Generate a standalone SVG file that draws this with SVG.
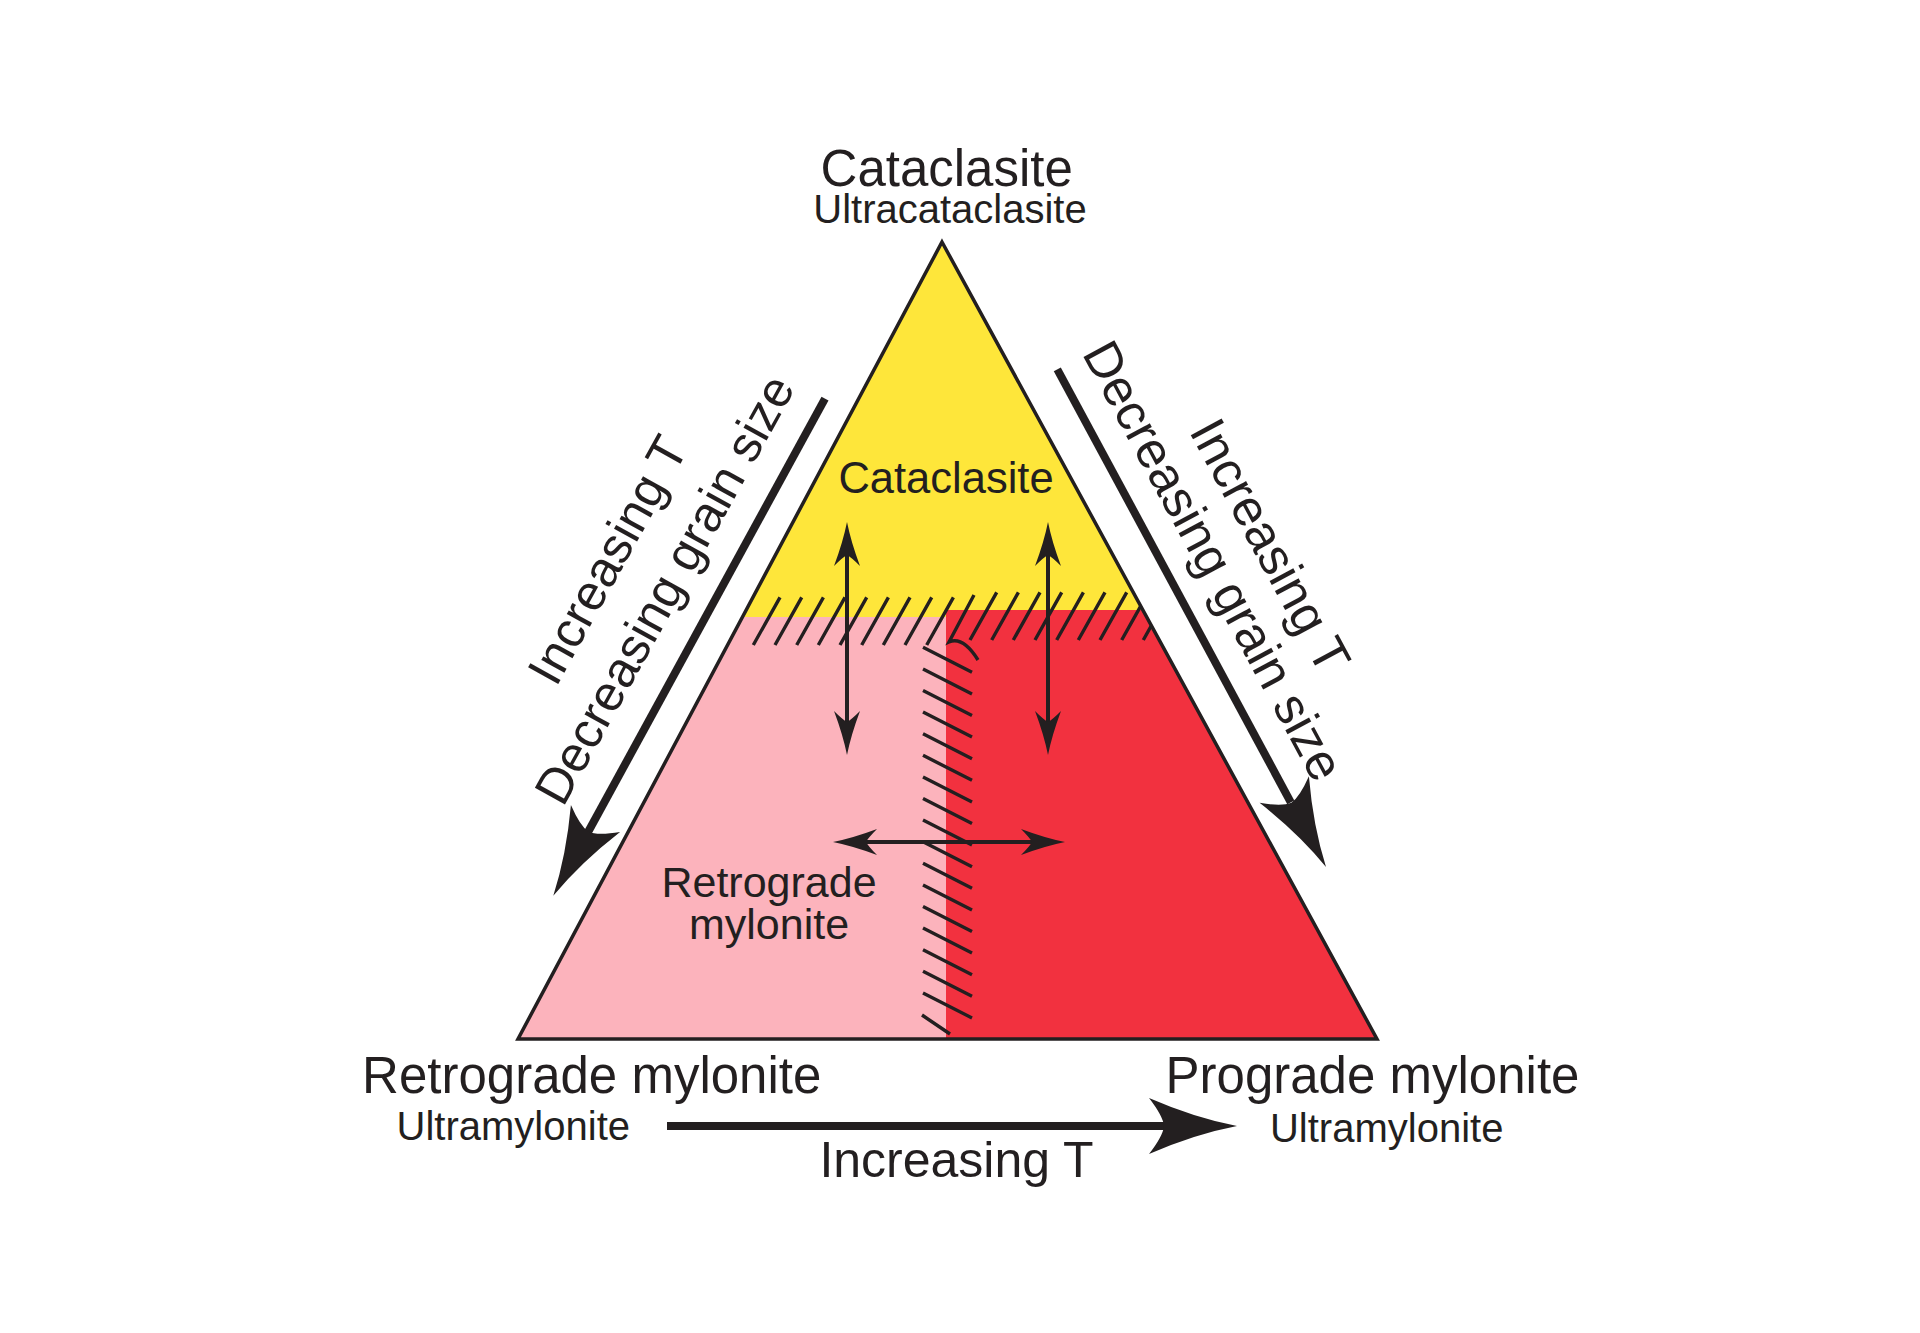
<svg xmlns="http://www.w3.org/2000/svg" width="1920" height="1333" viewBox="0 0 1920 1333">
<style>
text{font-family:"Liberation Sans",Arial,sans-serif;fill:#231f20}
.big{font-size:51px}
.sub{font-size:40px}
.rot{font-size:50px}
.rotr{font-size:51px}
.edge{fill:none;stroke:#231f20;stroke-width:3.5;stroke-linejoin:miter}
.hatch{fill:none;stroke:#231f20;stroke-width:3.4}
.shaft{fill:none;stroke:#231f20;stroke-width:4}
.bshaft{fill:none;stroke:#231f20;stroke-width:8}
.head{fill:#231f20}
</style>
<defs>
<clipPath id="tri"><polygon points="942,242 1377,1039 518,1039"/></clipPath>
<path id="sh" d="M0,0 Q-20,-4 -44,-13 Q-35,-4 -33,0 Q-35,4 -44,13 Q-20,4 0,0 Z"/>
<path id="bh" d="M0,0 Q-42,-8 -88,-28 Q-74,-10 -73,0 Q-74,10 -88,28 Q-42,8 0,0 Z"/>
</defs>
<rect width="1920" height="1333" fill="#ffffff"/>

<g id="triangle">
<polygon points="942,242 1377,1039 518,1039" fill="#fee63a"/>
<polygon id="retrograde-field" points="742.8,617 946,617 946,1039 518,1039" fill="#fcb3bc"/>
<polygon id="prograde-field" points="946,610 1142.6,610 1377,1039 946,1039" fill="#f2313f"/>
<polygon class="edge" points="942,242 1377,1039 518,1039"/>
</g>

<g id="hatches" clip-path="url(#tri)">
<path class="hatch" d="M753.3,645 l26.7,-47.7 M775,645 l26.7,-47.7 M796.7,645 l26.7,-47.7 M818.3,645 l26.7,-47.7 M840,645 l26.7,-47.7 M861.7,645 l26.7,-47.7 M883.3,645 l26.7,-47.7 M905,645 l26.7,-47.7 M926.7,645 l26.7,-47.7"/>
<path class="hatch" d="M974,595 L949,642 Q963,636 978,660"/>
<path class="hatch" d="M970,640 l26.7,-47.7 M991.7,640 l26.7,-47.7 M1013.3,640 l26.7,-47.7 M1035,640 l26.7,-47.7 M1056.7,640 l26.7,-47.7 M1078.3,640 l26.7,-47.7 M1100,640 l26.7,-47.7 M1121.7,640 l26.7,-47.7 M1143.3,640 l26.7,-47.7"/>
<path class="hatch" d="M923,647.3 l49,25 M923,668.9 l49,25 M923,690.5 l49,25 M923,712.1 l49,25 M923,733.7 l49,25 M923,755.3 l49,25 M923,776.9 l49,25 M923,798.5 l49,25 M923,820.1 l49,25 M923,841.7 l49,25 M923,863.3 l49,25 M923,884.9 l49,25 M923,906.5 l49,25 M923,928.1 l49,25 M923,949.7 l49,25 M923,971.3 l49,25 M923,992.9 l49,25 M922,1015 L950,1034"/>
</g>

<g id="connectors">
<line class="shaft" x1="847" y1="550" x2="847" y2="727"/>
<use href="#sh" class="head" transform="translate(847,522) rotate(-90)"/>
<use href="#sh" class="head" transform="translate(847,755) rotate(90)"/>
<line class="shaft" x1="1048" y1="550" x2="1048" y2="727"/>
<use href="#sh" class="head" transform="translate(1048,522) rotate(-90)"/>
<use href="#sh" class="head" transform="translate(1048,755) rotate(90)"/>
<line class="shaft" x1="861" y1="842" x2="1037" y2="842"/>
<use href="#sh" class="head" transform="translate(833,842) rotate(180)"/>
<use href="#sh" class="head" transform="translate(1065,842)"/>

<line class="bshaft" x1="825" y1="398.6" x2="587.8" y2="832.5"/>
<use href="#bh" class="head" transform="translate(553.3,895.7) rotate(118.66)"/>
<line class="bshaft" x1="1057.3" y1="369.3" x2="1290.8" y2="802.3"/>
<use href="#bh" class="head" transform="translate(1326,867) rotate(61.67)"/>
<line class="bshaft" x1="667" y1="1126" x2="1166" y2="1126"/>
<use href="#bh" class="head" transform="translate(1237,1126)"/>
</g>

<g id="node-cataclasite-apex">
<text x="946.7" y="186" class="big" text-anchor="middle">Cataclasite</text>
<text x="950" y="222.7" class="sub" text-anchor="middle">Ultracataclasite</text>
</g>
<g id="node-cataclasite-field">
<text x="946" y="493" font-size="43.5" text-anchor="middle">Cataclasite</text>
</g>
<g id="node-retrograde-field">
<text x="769" y="896.7" font-size="43" text-anchor="middle">Retrograde</text>
<text x="769" y="939" font-size="43" text-anchor="middle">mylonite</text>
</g>
<g id="node-retrograde-corner">
<text x="591.7" y="1093" class="big" text-anchor="middle">Retrograde mylonite</text>
<text x="513.3" y="1140" class="sub" text-anchor="middle">Ultramylonite</text>
</g>
<g id="node-prograde-corner">
<text x="1372.5" y="1093" class="big" text-anchor="middle">Prograde mylonite</text>
<text x="1386.7" y="1141.7" class="sub" text-anchor="middle">Ultramylonite</text>
</g>
<g id="label-bottom">
<text x="956.5" y="1176.7" class="rot" text-anchor="middle">Increasing T</text>
</g>
<g id="label-left">
<text class="rot" transform="translate(556,688) rotate(-61)">Increasing T</text>
<text class="rot" transform="translate(563,808) rotate(-61)">Decreasing grain size</text>
</g>
<g id="label-right">
<text class="rotr" transform="translate(1081.4,353.3) rotate(61.6)">Decreasing grain size</text>
<text class="rotr" transform="translate(1188.4,431) rotate(61.6)">Increasing T</text>
</g>
</svg>
